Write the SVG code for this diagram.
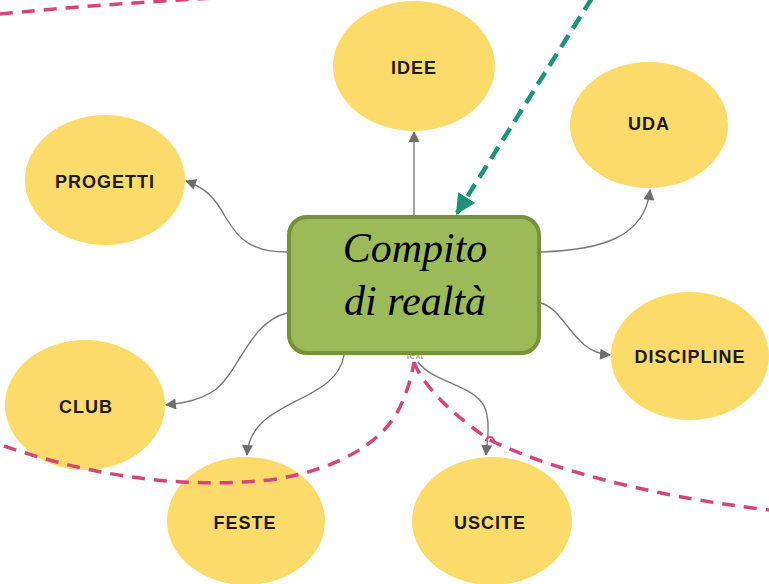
<svg xmlns="http://www.w3.org/2000/svg" width="769" height="584" viewBox="0 0 769 584">
<defs>
<style>
.node ellipse{fill:#FDDB6B;}
.lbl{font-family:"Comic Sans MS","Liberation Sans",sans-serif;font-weight:bold;font-size:18px;fill:#1a1a1a;text-anchor:middle;letter-spacing:1px;}
.conn{fill:none;stroke:#7a7a7a;stroke-width:1.4;}
.pink{fill:none;stroke:#D6457A;stroke-width:3.5;stroke-dasharray:13 9;}
.teal{fill:none;stroke:#1D9479;stroke-width:4.5;stroke-dasharray:14 8;}
.main{font-family:"Liberation Serif",serif;font-style:italic;font-size:42px;fill:#000;text-anchor:middle;}
</style>
<marker id="arr" viewBox="0 0 10 10" refX="9" refY="5" markerWidth="12" markerHeight="11" markerUnits="userSpaceOnUse" orient="auto">
<path d="M0,0 L10,5 L0,10 z" fill="#6e6e6e"/>
</marker>
<marker id="arrT" viewBox="0 0 10 10" refX="9" refY="5" markerWidth="4.5" markerHeight="4.5" orient="auto">
<path d="M0,0 L10,5 L0,10 z" fill="#1D9479"/>
</marker>
</defs>
<rect width="769" height="584" fill="#ffffff"/>

<g id="node-idee" class="node"><ellipse cx="414" cy="66" rx="81" ry="65"/><text class="lbl" x="414" y="74">IDEE</text></g>
<g id="node-uda" class="node"><ellipse cx="649" cy="125" rx="79" ry="63"/><text class="lbl" x="649" y="130">UDA</text></g>
<g id="node-progetti" class="node"><ellipse cx="105" cy="180" rx="80" ry="65"/><text class="lbl" x="105" y="188">PROGETTI</text></g>
<g id="node-discipline" class="node"><ellipse cx="690" cy="356" rx="79" ry="64"/><text class="lbl" x="690" y="363">DISCIPLINE</text></g>
<g id="node-club" class="node"><ellipse cx="85" cy="405" rx="80" ry="65"/><text class="lbl" x="86" y="413">CLUB</text></g>
<g id="node-feste" class="node"><ellipse cx="246" cy="521" rx="79" ry="64"/><text class="lbl" x="245" y="529">FESTE</text></g>
<g id="node-uscite" class="node"><ellipse cx="492" cy="521" rx="80" ry="64"/><text class="lbl" x="490" y="529">USCITE</text></g>

<g id="connectors">
<path class="conn" marker-end="url(#arr)" d="M414,215 L414,132"/>
<path class="conn" marker-end="url(#arr)" d="M287,252 C250,252 238,238 226,218 C214,196 205,188 186,181"/>
<path class="conn" marker-end="url(#arr)" d="M541,252 C600,250 645,238 650,190"/>
<path class="conn" marker-end="url(#arr)" d="M541,303 C568,312 572,352 610,355"/>
<path class="conn" marker-end="url(#arr)" d="M287,313 C250,322 240,370 215,390 C200,400 185,403 166,405"/>
<path class="conn" marker-end="url(#arr)" d="M344,355 C336,405 250,398 247,455"/>
<path class="conn" marker-end="url(#arr)" d="M418,362 C436,386 482,384 487,415 C490,432 487,442 486,455"/>
<path class="teal" marker-end="url(#arrT)" d="M592,-2 L457,213"/>
</g>

<g id="dashed-lines">
<path class="pink" d="M0,14 C60,8 140,2 215,-2"/>
<path class="pink" d="M4,446 C80,472 170,490 270,480 C340,470 385,440 400,407 C408,390 412,375 414,362"/>
<path class="pink" d="M414,362 C420,380 445,410 490,440 C540,465 640,495 769,510"/>
<path d="M486,441 a4,4 0 0 1 8,0" fill="none" stroke="#D6457A" stroke-width="2"/>
</g>

<text x="414" y="359" font-family="Liberation Sans, sans-serif" font-size="10" fill="#9a9a9a" text-anchor="middle">Text</text>

<g id="node-main">
<rect x="289" y="217" width="250" height="136" rx="18" ry="18" fill="#9BBB59" stroke="#76923C" stroke-width="4"/>
<text class="main" x="415" y="262">Compito</text>
<text class="main" x="415" y="315">di realtà</text>
</g>
</svg>
